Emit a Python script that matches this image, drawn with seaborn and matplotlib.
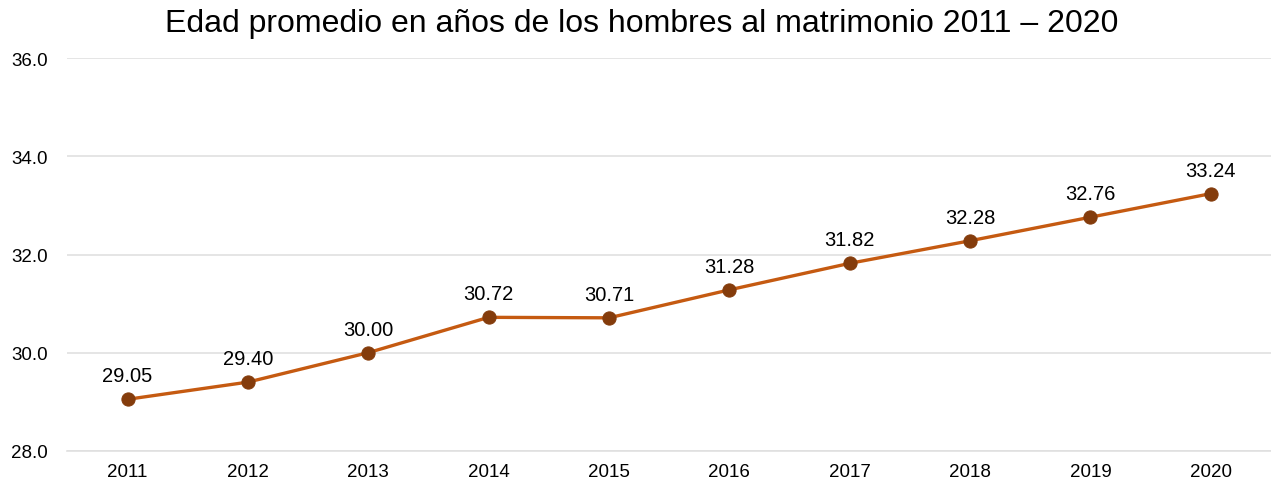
import pandas as pd
import numpy as np
import matplotlib.pyplot as plt
import seaborn as sns

years = ["2011", "2012", "2013", "2014", "2015", "2016", "2017", "2018", "2019", "2020"]
edad = [29.05, 29.40, 30.00, 30.72, 30.71, 31.28, 31.82, 32.28, 32.76, 33.24]
etiquetas = ["29.05", "29.40", "30.00", "30.72", "30.71", "31.28", "31.82", "32.28", "32.76", "33.24"]
y_ticks = [28.0, 30.0, 32.0, 34.0, 36.0]

df = pd.DataFrame({"anio": years, "edad": edad})
df["pos"] = range(len(df))

sns.set_style("white")
plt.rcParams['font.family'] = ['Liberation Sans', 'DejaVu Sans']

fig = plt.figure(figsize=(12.71, 4.89), dpi=100)
ax = fig.add_axes([0.053, 0.076, 0.947, 0.803])

sns.lineplot(data=df, x="pos", y="edad", ax=ax, color="#C55A11", linewidth=2.4,
             marker="o", markersize=9.5, markerfacecolor="#843C0C",
             markeredgecolor="#843C0C", zorder=3)

for x, y, t in zip(df["pos"], df["edad"], etiquetas):
    ax.annotate(t, (x, y), xytext=(0, 10), textcoords="offset points",
                ha="center", va="bottom", fontsize=14.5, color="#000000")

ax.set_xlim(-0.5, len(years) - 0.5)
ax.set_ylim(28, 36)
ax.set_xticks(df["pos"])
ax.set_xticklabels(years)
ax.set_yticks(y_ticks)
ax.set_yticklabels([f"{v:.1f}" for v in y_ticks])
ax.tick_params(axis="both", length=0, labelsize=13.5, colors="#000000")
ax.tick_params(axis="x", pad=9)
ax.tick_params(axis="y", pad=14)
ax.yaxis.grid(True, color="#E0E0E0", linewidth=1.2)
ax.set_axisbelow(True)
for s in ["top", "right", "left"]:
    ax.spines[s].set_visible(False)
ax.spines["bottom"].set_color("#E0E0E0")
ax.spines["bottom"].set_linewidth(1.2)
ax.set_xlabel("")
ax.set_ylabel("")

fig.suptitle("Edad promedio en años de los hombres al matrimonio 2011 – 2020",
             fontsize=23, x=0.505, y=0.982, va="top", color="#000000")

fig.savefig("out.png", dpi=100)
